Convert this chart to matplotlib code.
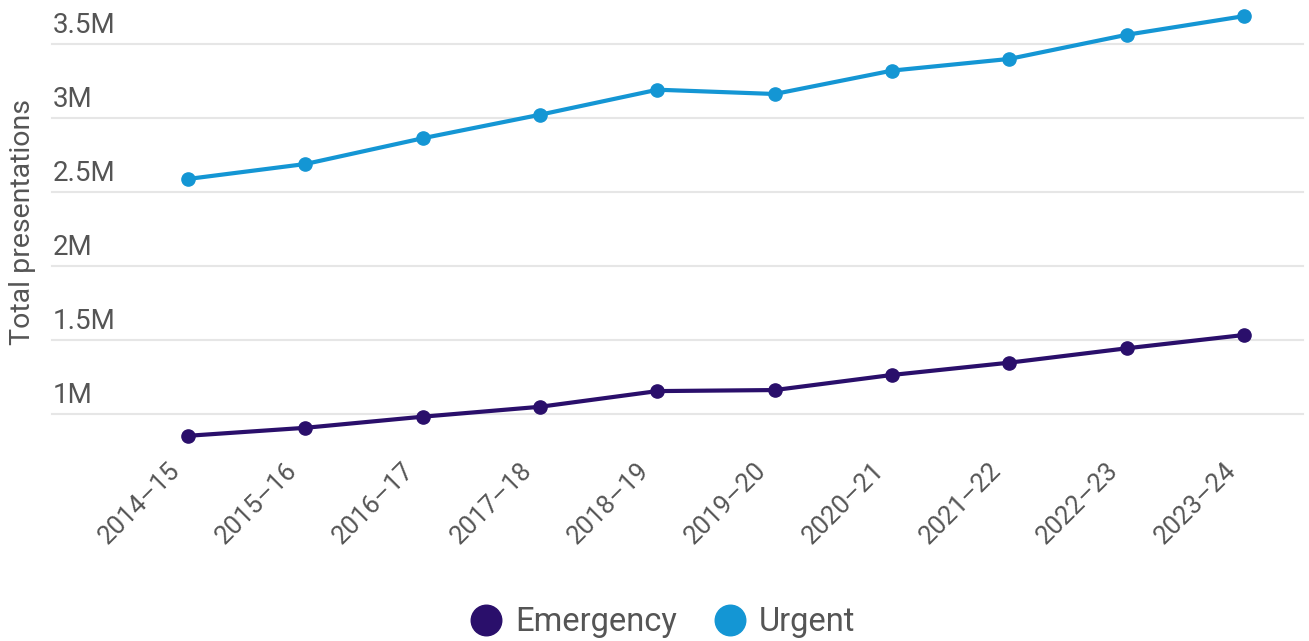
import matplotlib
matplotlib.use("Agg")
import matplotlib.pyplot as plt
from matplotlib.lines import Line2D
from matplotlib.transforms import blended_transform_factory, ScaledTranslation

plt.rcParams['font.family'] = ['Roboto', 'DejaVu Sans']

years = ["2014\u201315", "2015\u201316", "2016\u201317", "2017\u201318", "2018\u201319",
         "2019\u201320", "2020\u201321", "2021\u201322", "2022\u201323", "2023\u201324"]
emergency = [853000, 907000, 982000, 1049000, 1155000, 1162000, 1264000, 1347000, 1444000, 1534000]
urgent = [2588000, 2689000, 2863000, 3022000, 3191000, 3162000, 3320000, 3399000, 3562000, 3688000]
ytick_vals = [1000000, 1500000, 2000000, 2500000, 3000000, 3500000]
ytick_labels = ["1M", "1.5M", "2M", "2.5M", "3M", "3.5M"]

series_names = ["Emergency", "Urgent"]
colors = ["#2A0F6B", "#1496D4"]
text_color = "#555555"

W, H = 1309, 641
fig = plt.figure(figsize=(W / 100, H / 100), dpi=100)
ax = fig.add_axes([0, 1 - 450 / H, 1, 450 / H])

x = list(range(len(years)))
for vals, col, name in zip([emergency, urgent], colors, series_names):
    ax.plot(x, vals, color=col, lw=3, marker='o', ms=9.5, label=name,
            solid_capstyle='round', zorder=3)

ax.set_xlim(-1.603, 9.554)
ax.set_ylim(757000, 3797000)

for v in ytick_vals:
    ax.axhline(v, xmin=52 / W, xmax=1303 / W, color="#E6E6E6", lw=1.5, zorder=1)

ax.set_yticks([])
ax.set_xticks(x)
ax.set_xticklabels(years, rotation=45, ha='right', va='center', rotation_mode='anchor',
                   fontsize=18.5, color=text_color)
ax.tick_params(axis='x', length=0, pad=12)
shift = ScaledTranslation(-12 / 100, 0, fig.dpi_scale_trans)
for lab in ax.get_xticklabels():
    lab.set_transform(lab.get_transform() + shift)
for s in ax.spines.values():
    s.set_visible(False)

trans = blended_transform_factory(fig.transFigure, ax.transData)
off = ScaledTranslation(0, 5 / 100, fig.dpi_scale_trans)
for v, lab in zip(ytick_vals, ytick_labels):
    ax.text(53 / W, v, lab, transform=trans + off, ha='left', va='bottom',
            fontsize=20, color=text_color)

fig.text(23 / W, 1 - 222 / H, "Total presentations", rotation=90, ha='center', va='center',
         fontsize=20.5, color=text_color)

handles = [Line2D([], [], ls='none', marker='o', ms=22, color=c) for c in colors]
fig.legend(handles, series_names, loc='center', bbox_to_anchor=(0.505, 1 - 622 / H),
           ncol=2, frameon=False, fontsize=23.5, handletextpad=0.3, columnspacing=1.0,
           labelcolor=text_color, handlelength=1.2)

fig.savefig("out.png", dpi=100)
